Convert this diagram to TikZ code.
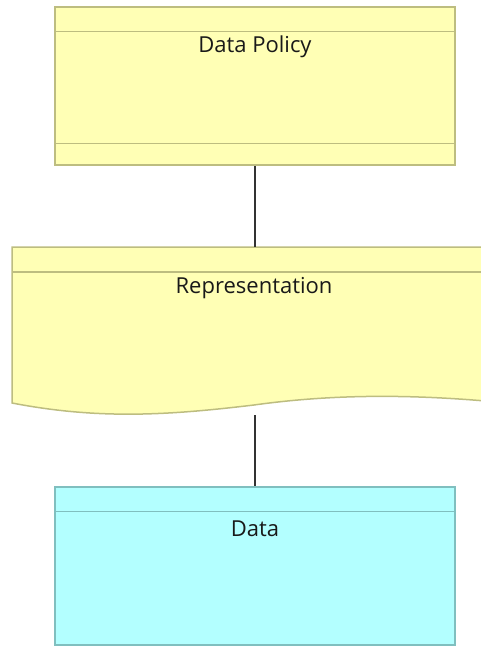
\documentclass[tikz,border=0pt]{standalone}
\usepackage{fontspec}
\setmainfont{Open Sans}
\usetikzlibrary{positioning}

\definecolor{policyfill}{HTML}{FFFFB5}
\definecolor{policyline}{HTML}{BDBD80}
\definecolor{datafill}{HTML}{B3FFFF}
\definecolor{dataline}{HTML}{80BFBF}
\definecolor{linkcolor}{HTML}{333333}

\tikzset{
  policybox/.style={draw=policyline,fill=policyfill,line width=1.5pt,minimum width=400pt,minimum height=158pt,inner sep=0pt},
  databox/.style={draw=dataline,fill=datafill,line width=1.5pt,minimum width=400pt,minimum height=158pt,inner sep=0pt},
  title/.style={font=\fontsize{22}{26}\selectfont,text=black!90,inner sep=0pt},
  link/.style={draw=linkcolor,line width=1.5pt}
}

\begin{document}
\begin{tikzpicture}[x=1pt,y=-1pt]
  \useasboundingbox (0,0) rectangle (480,646);

  %% Data Policy
  \node [policybox] (policy) at (255,86) {};
  \draw [policyline,line width=1.2pt] ([yshift=-25pt]policy.north west) -- ([yshift=-25pt]policy.north east);
  \draw [policyline,line width=1.2pt] ([yshift=22pt]policy.south west) -- ([yshift=22pt]policy.south east);
  \node [title] (policytitle) at ([yshift=-41pt]policy.north) {Data Policy};

  %% Representation
  \draw [policyline,fill=policyfill,line width=1.5pt] (12,247) -- (497,247) -- (497,402)
    .. controls (420,395) and (340,393) .. (254,405)
    .. controls (170,415) and (100,420) .. (12,403) -- cycle;
  \draw [policyline,line width=1.2pt] (12,272) -- (497,272);
  \coordinate (reprtop) at (255,247);
  \coordinate (reprbottom) at (255,415);
  \node [title] (reprtitle) at (254,288) {Representation};

  %% Data
  \node [databox] (data) at (255,566) {};
  \draw [dataline,line width=1.2pt] ([yshift=-25pt]data.north west) -- ([yshift=-25pt]data.north east);
  \node [title] (datatitle) at ([yshift=-42pt]data.north) {Data};

  %% Links
  \draw [link] (policy.south) -- (reprtop);
  \draw [link] (reprbottom) -- (data.north);

\end{tikzpicture}
\end{document}
